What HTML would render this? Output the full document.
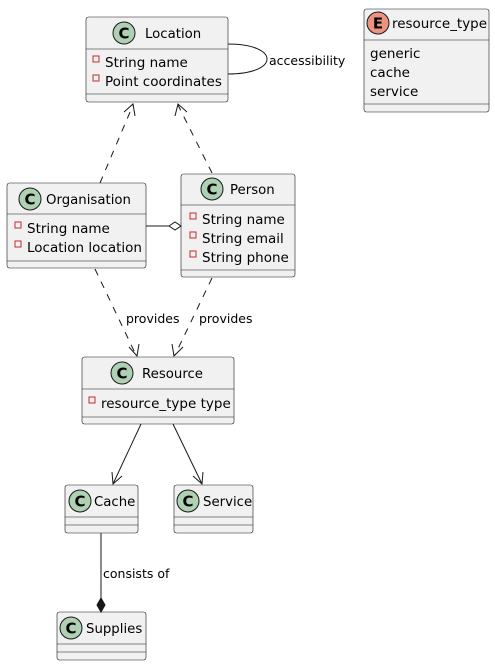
<!DOCTYPE html>
<html><head><meta charset="utf-8"><style>
html,body{margin:0;padding:0;background:#fff;}
svg{display:block;}
text{font-family:"DejaVu Sans","Liberation Sans",sans-serif;fill:#000;}
.t{font-size:13.3px;}
.f{font-size:13.5px;}
.l{font-size:12.5px;}
.box{fill:#F1F1F1;stroke:#181818;stroke-width:0.6;}
.dv{stroke:#181818;stroke-width:0.6;}
.mk{fill:none;stroke:#C82930;stroke-width:1;}
.ic{fill:#ADD1B2;stroke:#181818;stroke-width:1;}
.e{stroke:#181818;stroke-width:1;fill:none;}
.d{stroke:#181818;stroke-width:1;fill:none;stroke-dasharray:7,7;}
.ct{font-size:15px;font-weight:bold;}
</style></head><body>
<svg width="495" height="666" viewBox="0 0 495 666" xmlns="http://www.w3.org/2000/svg">
<!-- Location -->
<rect class="box" x="86" y="17" width="142" height="85" rx="2.5"/>
<line class="dv" x1="86" y1="49" x2="228" y2="49"/>
<line class="dv" x1="86" y1="94" x2="228" y2="94"/>
<circle class="ic" cx="124" cy="33" r="11"/><text class="ct" x="124" y="38.5" text-anchor="middle">C</text>
<text class="t" x="145" y="38">Location</text>
<rect class="mk" x="93" y="56" width="6" height="6"/><text class="f" x="105" y="67">String name</text>
<rect class="mk" x="93" y="75" width="6" height="6"/><text class="f" x="105" y="86">Point coordinates</text>
<path class="e" d="M228,44 C280,44 280,74 228,74"/>
<text class="l" x="269" y="65">accessibility</text>

<!-- resource_type -->
<rect class="box" x="364" y="9" width="125" height="103" rx="2.5"/>
<line class="dv" x1="364" y1="40" x2="489" y2="40"/>
<line class="dv" x1="364" y1="104" x2="489" y2="104"/>
<circle cx="378" cy="23" r="11" fill="#EB937F" stroke="#181818"/><text class="ct" x="378" y="28.5" text-anchor="middle">E</text>
<text class="t" x="392" y="28" textLength="95" lengthAdjust="spacingAndGlyphs">resource_type</text>
<text class="f" x="370" y="58">generic</text>
<text class="f" x="370" y="77">cache</text>
<text class="f" x="370" y="96">service</text>

<!-- Organisation -->
<rect class="box" x="7" y="183" width="139" height="85" rx="2.5"/>
<line class="dv" x1="7" y1="214" x2="146" y2="214"/>
<line class="dv" x1="7" y1="261" x2="146" y2="261"/>
<circle class="ic" cx="30" cy="199" r="11"/><text class="ct" x="30" y="204.5" text-anchor="middle">C</text>
<text class="t" x="46" y="204">Organisation</text>
<rect class="mk" x="15" y="222" width="6" height="6"/><text class="f" x="27" y="233">String name</text>
<rect class="mk" x="15" y="241" width="6" height="6"/><text class="f" x="27" y="252">Location location</text>

<!-- Person -->
<rect class="box" x="181" y="174" width="114" height="103" rx="2.5"/>
<line class="dv" x1="181" y1="205" x2="295" y2="205"/>
<line class="dv" x1="181" y1="270" x2="295" y2="270"/>
<circle class="ic" cx="212" cy="189" r="11"/><text class="ct" x="212" y="194.5" text-anchor="middle">C</text>
<text class="t" x="230" y="194">Person</text>
<rect class="mk" x="190" y="213" width="6" height="6"/><text class="f" x="202" y="224">String name</text>
<rect class="mk" x="190" y="232" width="6" height="6"/><text class="f" x="202" y="243">String email</text>
<rect class="mk" x="190" y="251" width="6" height="6"/><text class="f" x="202" y="262">String phone</text>

<!-- Resource -->
<rect class="box" x="82" y="357" width="152" height="67" rx="2.5"/>
<line class="dv" x1="82" y1="389" x2="234" y2="389"/>
<line class="dv" x1="82" y1="417" x2="234" y2="417"/>
<circle class="ic" cx="122" cy="373" r="11"/><text class="ct" x="122" y="378.5" text-anchor="middle">C</text>
<text class="t" x="142" y="378">Resource</text>
<rect class="mk" x="89" y="397" width="6" height="6"/><text class="f" x="101" y="408">resource_type type</text>

<!-- Cache -->
<rect class="box" x="65" y="485" width="73" height="48" rx="2.5"/>
<line class="dv" x1="65" y1="517" x2="138" y2="517"/>
<line class="dv" x1="65" y1="525" x2="138" y2="525"/>
<circle class="ic" cx="80" cy="501" r="11"/><text class="ct" x="80" y="506.5" text-anchor="middle">C</text>
<text class="t" x="94" y="506">Cache</text>

<!-- Service -->
<rect class="box" x="174" y="485" width="79" height="48" rx="2.5"/>
<line class="dv" x1="174" y1="517" x2="253" y2="517"/>
<line class="dv" x1="174" y1="525" x2="253" y2="525"/>
<circle class="ic" cx="188" cy="501" r="11"/><text class="ct" x="188" y="506.5" text-anchor="middle">C</text>
<text class="t" x="203" y="506">Service</text>

<!-- Supplies -->
<rect class="box" x="57" y="612" width="89" height="48" rx="2.5"/>
<line class="dv" x1="57" y1="644" x2="146" y2="644"/>
<line class="dv" x1="57" y1="652" x2="146" y2="652"/>
<circle class="ic" cx="71" cy="628" r="11"/><text class="ct" x="71" y="633.5" text-anchor="middle">C</text>
<text class="t" x="86" y="633">Supplies</text>

<!-- edges -->
<line class="d" x1="100" y1="183" x2="133" y2="105"/>
<path class="e" d="M124,112 L133,104 L135,116"/>
<line class="d" x1="212" y1="173" x2="178" y2="105"/>
<path class="e" d="M175,116 L178,104 L187,112"/>

<line class="e" x1="146" y1="226" x2="169" y2="226"/>
<path d="M169,226 L175,222 L181,226 L175,230 Z" fill="#fff" stroke="#181818"/>

<line class="d" x1="95" y1="269" x2="136" y2="355"/>
<path class="e" d="M129,347 L137,356 L139,344"/>
<text class="l" x="126" y="323">provides</text>
<line class="d" x1="212" y1="278" x2="175" y2="355"/>
<path class="e" d="M172,344 L174,356 L183,347"/>
<text class="l" x="199" y="323">provides</text>

<line class="e" x1="141" y1="424" x2="113" y2="484"/>
<path class="e" d="M112,472 L113,484 L122,476"/>
<line class="e" x1="173" y1="424" x2="202" y2="484"/>
<path class="e" d="M193,476 L202,484 L203,472"/>

<line class="e" x1="101" y1="533" x2="101" y2="598"/>
<path d="M101,598 L105,605 L101,612 L97,605 Z" fill="#181818" stroke="#181818"/>
<text class="l" x="103" y="578">consists of</text>
</svg>
</body></html>
